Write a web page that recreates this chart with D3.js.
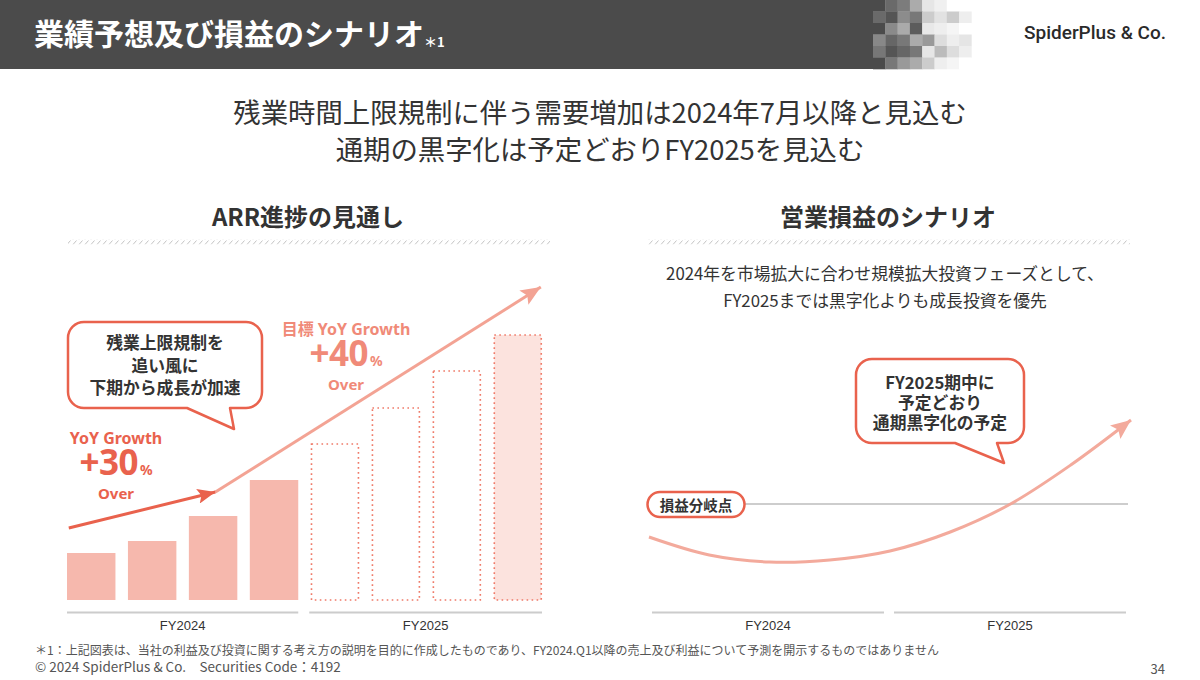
<!DOCTYPE html>
<html>
<head>
<meta charset="utf-8">
<script src="https://cdn.jsdelivr.net/npm/d3@7"></script>
<style>
  html, body { margin: 0; padding: 0; background: #fff; }
  svg { display: block; font-family: "Noto Sans CJK JP", "Noto Sans", sans-serif; }
</style>
</head>
<body>
<svg id="chart" width="1200" height="680"></svg>
<script>
// ARR outlook (left panel)
const quarters = ['FY2024 Q1', 'FY2024 Q2', 'FY2024 Q3', 'FY2024 Q4', 'FY2025 Q1', 'FY2025 Q2', 'FY2025 Q3', 'FY2025 Q4'];
const arrValues = [47, 59, 84, 120, 156, 192, 229, 265];
const arrKinds = ['actual', 'actual', 'actual', 'actual', 'target', 'target', 'target', 'goal'];
const fiscalYears = ['FY2024', 'FY2025'];
// trend arrows: [quarter position, value]
const trendActual = [[0.03, 72], [2.5, 108]];
const trendTarget = [[2.5, 108], [7.98, 313]];

// operating profit scenario (right panel), 0 = break-even
const profitSteps = [0, 1, 2, 3, 4, 5, 6, 7, 8];
const profitValues = [-33, -51, -58, -56, -47, -28, 0, 39, 84];

// header mosaic grey levels
const mosaic = [
  [0x4b, 0x6a, 0x7c, 0xab, 0xe6, 0xf0, 0xff, 0xff],
  [0x6a, 0x55, 0x8c, 0x78, 0xcc, 0xe2, 0xcc, 0xee],
  [0x4b, 0x8a, 0xaa, 0x5c, 0xe8, 0xee, 0xf5, 0xff],
  [0x88, 0x66, 0x78, 0xab, 0x99, 0xdd, 0xee, 0xe5],
  [0x77, 0x55, 0x66, 0x78, 0xe6, 0xbb, 0xdd, 0xee],
  [0x4b, 0x78, 0x99, 0xab, 0xcc, 0xee, 0xf5, 0xff]
];

const CORAL = '#e9624d';
const SALMON = '#f3a394';
const BAR = '#f6b8ad';
const TEXT = '#333333';

const svg = d3.select('#chart');
const defs = svg.append('defs');

// hatched divider pattern
const pat = defs.append('pattern')
  .attr('id', 'hatch').attr('patternUnits', 'userSpaceOnUse')
  .attr('width', 6).attr('height', 5);
pat.append('line').attr('x1', 1).attr('y1', 4.5).attr('x2', 4.5).attr('y2', 0.5)
  .attr('stroke', '#c4c4c4').attr('stroke-width', 1);

function arrowMarker(id, color, len, wid) {
  defs.append('marker')
    .attr('id', id).attr('markerUnits', 'userSpaceOnUse')
    .attr('markerWidth', len).attr('markerHeight', wid)
    .attr('refX', len).attr('refY', wid / 2)
    .attr('orient', 'auto')
    .append('path')
    .attr('d', `M0,0 L${len},${wid / 2} L0,${wid} L${len * 0.2},${wid / 2} Z`)
    .attr('fill', color);
}
arrowMarker('headCoral', CORAL, 18, 15);
arrowMarker('headSalmon', SALMON, 20, 17);

// ---- header ----
svg.append('rect').attr('x', 0).attr('y', 0).attr('width', 873).attr('height', 69).attr('fill', '#4b4b4b');
const cellW = 12.3, cellH = 11.5;
mosaic.forEach((row, r) => {
  row.forEach((v, c) => {
    svg.append('rect')
      .attr('x', 873 + c * cellW).attr('y', r * cellH)
      .attr('width', cellW + 0.3).attr('height', cellH + 0.3)
      .attr('fill', d3.rgb(v, v, v));
  });
});
svg.append('text').attr('x', 34).attr('y', 45)
  .attr('fill', '#fff').attr('font-size', 30).attr('font-weight', 700)
  .text('業績予想及び損益のシナリオ')
  .append('tspan').attr('font-size', 13).attr('dy', 2).text('＊1');
svg.append('text').attr('x', 1166).attr('y', 39).attr('text-anchor', 'end')
  .attr('fill', '#2a2a2a').attr('font-size', 19).attr('font-weight', 500)
  .attr('font-family', 'Roboto, "Noto Sans", sans-serif')
  .text('SpiderPlus & Co.');

// ---- lead ----
const lead = ['残業時間上限規制に伴う需要増加は2024年7月以降と見込む', '通期の黒字化は予定どおりFY2025を見込む'];
lead.forEach((t, i) => {
  svg.append('text').attr('x', 600).attr('y', 111 + i * 37)
    .attr('text-anchor', 'middle').attr('dominant-baseline', 'central')
    .attr('fill', TEXT).attr('font-size', 27.4).text(t);
});

// ---- section titles ----
function sectionTitle(cx, x0, x1, title) {
  svg.append('text').attr('x', cx).attr('y', 215)
    .attr('text-anchor', 'middle').attr('dominant-baseline', 'central')
    .attr('fill', TEXT).attr('font-size', 24).attr('font-weight', 700).text(title);
  svg.append('rect').attr('x', x0).attr('y', 239.5).attr('width', x1 - x0).attr('height', 5)
    .attr('fill', 'url(#hatch)');
}
sectionTitle(308, 68, 550, 'ARR進捗の見通し');
sectionTitle(888, 648, 1130, '営業損益のシナリオ');

// ---- left panel: ARR bars ----
const x = d3.scaleBand().domain(quarters).range([67, 542]).paddingInner(0.205).paddingOuter(0);
const xq = d3.scaleLinear().domain([0, 8]).range([67, 542]);
const y = d3.scaleLinear().domain([0, 280]).range([600, 320]);

const bars = svg.append('g');
quarters.forEach((q, i) => {
  const kind = arrKinds[i];
  const r = bars.append('rect')
    .attr('x', x(q) + (kind === 'actual' ? 0 : 0.75))
    .attr('y', y(arrValues[i]))
    .attr('width', x.bandwidth() - (kind === 'actual' ? 0 : 1.5))
    .attr('height', y(0) - y(arrValues[i]));
  if (kind === 'actual') {
    r.attr('fill', BAR);
  } else {
    r.attr('fill', kind === 'goal' ? '#fce3de' : '#fff')
      .attr('stroke', '#ef7a68').attr('stroke-width', 1.6)
      .attr('stroke-dasharray', '1.6 3.4');
  }
});

// fiscal year axis segments
function yearAxis(axisY, edges) {
  fiscalYears.forEach((fy, i) => {
    const [a, b] = edges[i];
    svg.append('line').attr('x1', a).attr('x2', b).attr('y1', axisY).attr('y2', axisY)
      .attr('stroke', '#cccccc').attr('stroke-width', 2);
    svg.append('text').attr('x', (a + b) / 2).attr('y', axisY + 13)
      .attr('text-anchor', 'middle').attr('dominant-baseline', 'central')
      .attr('fill', TEXT).attr('font-size', 13).attr('font-family', '"Liberation Sans", Arial, sans-serif')
      .text(fy);
  });
}
yearAxis(612.5, [[x(quarters[0]), x(quarters[3]) + x.bandwidth()], [x(quarters[4]) - 1.5, x(quarters[7]) + x.bandwidth()]]);

// trend arrows
const trendLine = d3.line().x(d => xq(d[0])).y(d => y(d[1]));
svg.append('path').attr('d', trendLine(trendTarget))
  .attr('fill', 'none').attr('stroke', SALMON).attr('stroke-width', 3)
  .attr('marker-end', 'url(#headSalmon)');
svg.append('path').attr('d', trendLine(trendActual))
  .attr('fill', 'none').attr('stroke', CORAL).attr('stroke-width', 3)
  .attr('marker-end', 'url(#headCoral)');

// speech bubble
function bubble(bx, by, w, h, r, tail) {
  const [t1, tipX, tipY, t2] = tail;
  const p = d3.path();
  p.moveTo(bx + r, by);
  p.lineTo(bx + w - r, by);
  p.arcTo(bx + w, by, bx + w, by + r, r);
  p.lineTo(bx + w, by + h - r);
  p.arcTo(bx + w, by + h, bx + w - r, by + h, r);
  p.lineTo(t2, by + h);
  p.lineTo(tipX, tipY);
  p.lineTo(t1, by + h);
  p.lineTo(bx + r, by + h);
  p.arcTo(bx, by + h, bx, by + h - r, r);
  p.lineTo(bx, by + r);
  p.arcTo(bx, by, bx + r, by, r);
  p.closePath();
  svg.append('path').attr('d', p.toString())
    .attr('fill', '#fff').attr('stroke', CORAL).attr('stroke-width', 2.5)
    .attr('stroke-linejoin', 'round');
}
function lines(cx, cy0, gap, arr, size) {
  arr.forEach((t, i) => {
    svg.append('text').attr('x', cx).attr('y', cy0 + i * gap)
      .attr('text-anchor', 'middle').attr('dominant-baseline', 'central')
      .attr('fill', TEXT).attr('font-size', size).attr('font-weight', 700).text(t);
  });
}
bubble(68, 322, 194, 86, 16, [187, 234, 429, 230]);
lines(165, 342, 22.5, ['残業上限規制を', '追い風に', '下期から成長が加速'], 16.8);

// growth labels
function growth(cx, top, label, pct, color) {
  svg.append('text').attr('x', cx).attr('y', top)
    .attr('text-anchor', 'middle').attr('dominant-baseline', 'central')
    .attr('fill', color).attr('font-size', 16).attr('font-weight', 700)
    .attr('font-family', '"Noto Sans", "Noto Sans CJK JP", sans-serif').text(label);
  const t = svg.append('text').attr('x', cx).attr('y', top + 37)
    .attr('text-anchor', 'middle')
    .attr('fill', color).attr('font-weight', 700)
    .attr('font-family', '"Noto Sans", sans-serif');
  t.append('tspan').attr('font-size', 35).attr('letter-spacing', -0.5).text(pct);
  t.append('tspan').attr('font-size', 14).attr('dx', 2).text('%');
  svg.append('text').attr('x', cx).attr('y', top + 55)
    .attr('text-anchor', 'middle').attr('dominant-baseline', 'central')
    .attr('fill', color).attr('font-size', 15).attr('font-weight', 700)
    .attr('font-family', '"Noto Sans", sans-serif').text('Over');
}
growth(116, 438, 'YoY Growth', '+30', CORAL);
growth(346, 329, '目標 YoY Growth', '+40', '#f08a78');

// ---- right panel: operating profit scenario ----
svg.append('g').selectAll('text')
  .data(['2024年を市場拡大に合わせ規模拡大投資フェーズとして、', 'FY2025までは黒字化よりも成長投資を優先'])
  .join('text')
  .attr('x', 885).attr('y', (d, i) => 273 + i * 27)
  .attr('text-anchor', 'middle').attr('dominant-baseline', 'central')
  .attr('fill', TEXT).attr('font-size', 16.8).text(d => d);

const px = d3.scaleLinear().domain([0, 8]).range([649, 1131]);
const py = d3.scaleLinear().domain([-100, 100]).range([604, 404]);

// break-even line
svg.append('line').attr('x1', 700).attr('x2', 1128).attr('y1', py(0)).attr('y2', py(0))
  .attr('stroke', '#bdbdbd').attr('stroke-width', 1.5);

yearAxis(612.5, [[652, 884], [894, 1126]]);

// bubble right
bubble(856, 359, 168, 84, 16, [955, 1004, 463, 997]);
lines(940, 381.5, 20, ['FY2025期中に', '予定どおり', '通期黒字化の予定'], 16.8);

// profit curve
const curve = d3.line().x((d, i) => px(profitSteps[i])).y(d => py(d)).curve(d3.curveCatmullRom.alpha(0.5));
svg.append('path').datum(profitValues).attr('d', curve)
  .attr('fill', 'none').attr('stroke', SALMON).attr('stroke-width', 3).attr('opacity', 0.92)
  .attr('marker-end', 'url(#headSalmon)');

// break-even pill
svg.append('rect').attr('x', 647.5).attr('y', 492).attr('width', 97).attr('height', 25).attr('rx', 12.5)
  .attr('fill', '#fff').attr('stroke', CORAL).attr('stroke-width', 2.5);
svg.append('text').attr('x', 696).attr('y', 504.5)
  .attr('text-anchor', 'middle').attr('dominant-baseline', 'central')
  .attr('fill', TEXT).attr('font-size', 14.5).attr('font-weight', 700).text('損益分岐点');

// ---- footer ----
svg.append('text').attr('x', 35).attr('y', 655).attr('fill', '#555').attr('font-size', 12)
  .text('＊1：上記図表は、当社の利益及び投資に関する考え方の説明を目的に作成したものであり、FY2024.Q1以降の売上及び利益について予測を開示するものではありません');
svg.append('text').attr('x', 35).attr('y', 672).attr('fill', '#555').attr('font-size', 13.5)
  .text('© 2024 SpiderPlus & Co.　Securities Code：4192');
svg.append('text').attr('x', 1165).attr('y', 674).attr('text-anchor', 'end').attr('fill', '#555').attr('font-size', 13)
  .text('34');
</script>
</body>
</html>
